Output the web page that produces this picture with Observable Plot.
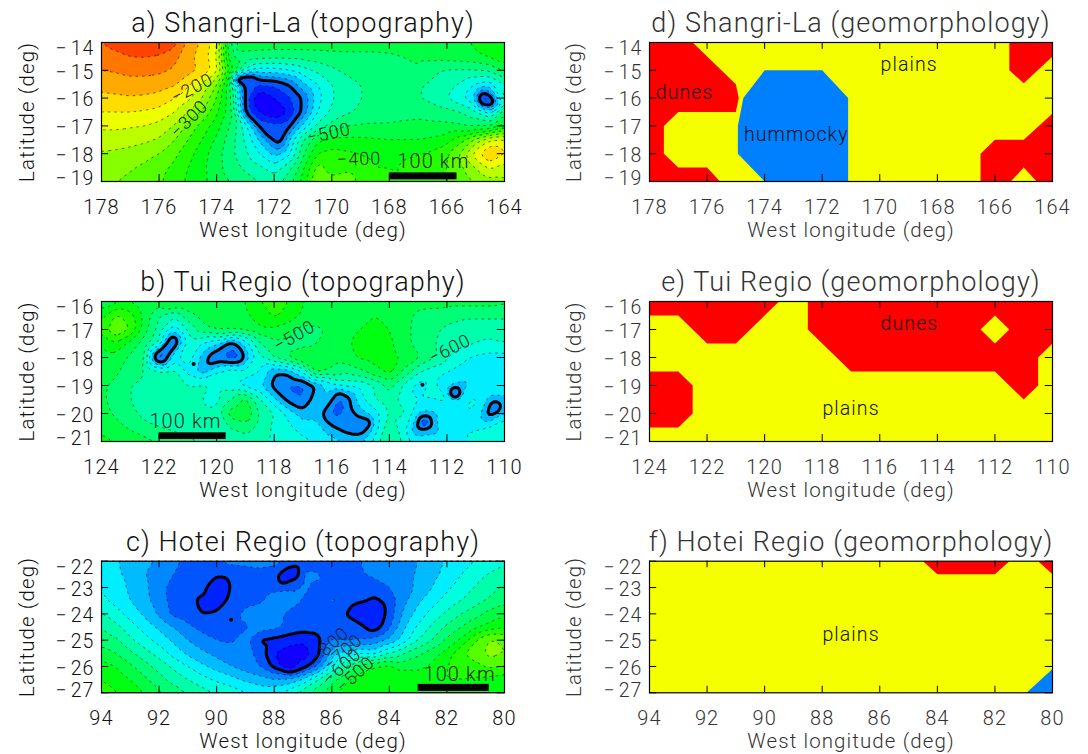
<!DOCTYPE html>
<html><head><meta charset="utf-8">
<script src="https://cdn.jsdelivr.net/npm/d3@7"></script>
<script src="https://cdn.jsdelivr.net/npm/@observablehq/plot@0.6"></script>
<style>
html,body{margin:0;padding:0;background:#fff}
#root{position:relative;width:1088px;height:754px;overflow:hidden}
#root>div{position:absolute}
svg{display:block}
</style></head><body><div id="root"></div>
<script>
// Elevation grids (metres), 0.5 degree spacing, rows from north to south, columns from high to low west longitude
const elevA = [
[-50,-30,-10,0,-5,-25,-110,-160,-230,-580,-520,-520,-520,-520,-520,-520,-520,-520,-520,-520,-520,-510,-510,-510,-510,-510,-490,-470,-450],
[-75,-65,-50,-48,-55,-80,-130,-175,-240,-560,-570,-575,-580,-580,-580,-575,-570,-565,-565,-565,-560,-550,-540,-530,-525,-520,-510,-490,-460],
[-100,-95,-85,-85,-90,-105,-130,-160,-230,-480,-650,-720,-720,-700,-670,-640,-610,-590,-580,-575,-570,-565,-555,-585,-605,-605,-600,-590,-540],
[-130,-125,-120,-120,-125,-140,-190,-260,-340,-560,-880,-900,-890,-850,-760,-700,-650,-620,-600,-585,-580,-575,-595,-610,-640,-655,-700,-720,-650],
[-165,-160,-155,-160,-170,-195,-235,-300,-400,-540,-870,-1010,-950,-910,-845,-720,-655,-625,-602,-585,-580,-575,-598,-615,-650,-690,-760,-880,-620],
[-200,-200,-200,-205,-215,-245,-300,-360,-440,-530,-860,-960,-1000,-950,-840,-700,-640,-610,-590,-575,-570,-565,-565,-570,-580,-600,-640,-720,-560],
[-240,-240,-245,-250,-265,-300,-365,-420,-480,-560,-680,-865,-880,-870,-740,-640,-580,-550,-545,-545,-545,-540,-535,-540,-540,-545,-555,-560,-490],
[-275,-275,-280,-290,-305,-345,-400,-450,-510,-580,-660,-760,-860,-760,-600,-510,-490,-490,-490,-495,-500,-500,-500,-490,-470,-420,-330,-250,-240],
[-305,-310,-320,-330,-350,-385,-430,-480,-530,-590,-640,-700,-770,-720,-560,-450,-430,-440,-450,-455,-455,-450,-450,-440,-410,-340,-220,-140,-200],
[-325,-335,-345,-360,-385,-410,-450,-490,-530,-580,-610,-640,-680,-620,-510,-380,-430,-420,-440,-450,-450,-450,-440,-430,-400,-360,-300,-240,-270],
[-340,-350,-360,-375,-395,-420,-460,-490,-520,-550,-580,-600,-620,-570,-480,-340,-380,-350,-420,-445,-450,-450,-440,-420,-400,-380,-350,-320,-310]
];
const elevB = [
[-530,-520,-510,-540,-530,-470,-490,-500,-510,-520,-500,-450,-420,-450,-500,-510,-510,-510,-510,-510,-510,-520,-530,-530,-530,-530,-530,-530,-540],
[-470,-390,-430,-520,-600,-640,-570,-530,-530,-530,-510,-480,-440,-470,-510,-525,-530,-520,-510,-500,-510,-530,-560,-570,-580,-590,-590,-590,-590],
[-440,-350,-400,-530,-620,-730,-640,-570,-540,-540,-530,-510,-510,-530,-570,-560,-540,-520,-500,-490,-500,-530,-570,-590,-610,-620,-630,-630,-630],
[-500,-460,-520,-570,-650,-850,-680,-700,-740,-830,-730,-600,-560,-560,-570,-550,-530,-510,-480,-490,-490,-530,-570,-595,-620,-630,-650,-660,-650],
[-520,-520,-560,-590,-900,-720,-670,-770,-850,-880,-790,-660,-590,-540,-480,-510,-530,-520,-490,-480,-480,-510,-540,-590,-640,-690,-710,-720,-720],
[-530,-540,-580,-600,-640,-630,-720,-780,-700,-670,-680,-700,-790,-780,-700,-530,-560,-590,-560,-510,-480,-560,-640,-680,-700,-710,-720,-730,-730],
[-540,-560,-600,-610,-620,-630,-650,-640,-660,-690,-720,-740,-820,-860,-860,-790,-720,-690,-690,-650,-580,-660,-720,-690,-730,-770,-730,-710,-710],
[-540,-570,-600,-620,-620,-610,-620,-650,-670,-600,-530,-640,-740,-820,-850,-760,-790,-830,-720,-650,-620,-680,-700,-700,-690,-720,-690,-770,-760],
[-530,-560,-590,-610,-620,-630,-630,-640,-630,-520,-500,-610,-650,-720,-780,-770,-860,-840,-770,-720,-640,-640,-750,-760,-740,-700,-710,-830,-740],
[-510,-530,-560,-590,-600,-610,-620,-620,-620,-600,-580,-620,-660,-690,-720,-730,-790,-830,-850,-730,-610,-680,-810,-780,-710,-700,-700,-690,-660],
[-490,-500,-510,-530,-550,-570,-590,-600,-610,-620,-620,-640,-660,-680,-690,-700,-730,-750,-750,-680,-590,-660,-720,-720,-710,-700,-700,-670,-660]
];
const elevC = [
[-735,-745,-770,-790,-805,-840,-860,-860,-850,-835,-830,-815,-830,-860,-880,-885,-885,-880,-850,-835,-830,-820,-800,-770,-745,-725,-700,-680,-660],
[-720,-740,-765,-800,-820,-850,-870,-885,-890,-885,-885,-880,-880,-950,-840,-840,-880,-875,-855,-835,-825,-815,-795,-765,-735,-700,-670,-645,-625],
[-700,-725,-760,-790,-830,-870,-880,-880,-950,-895,-875,-870,-860,-855,-840,-860,-870,-860,-865,-880,-850,-820,-790,-750,-710,-680,-645,-620,-590],
[-690,-715,-750,-785,-825,-870,-885,-910,-930,-885,-870,-860,-830,-825,-850,-875,-840,-855,-890,-910,-885,-815,-760,-720,-680,-650,-620,-590,-560],
[-645,-680,-720,-760,-810,-865,-880,-900,-890,-885,-830,-820,-830,-860,-875,-880,-870,-900,-960,-920,-880,-790,-730,-680,-640,-600,-570,-530,-510],
[-600,-635,-680,-720,-760,-800,-840,-865,-875,-875,-860,-820,-835,-860,-875,-880,-870,-880,-880,-930,-860,-760,-690,-640,-590,-550,-510,-480,-460],
[-570,-590,-640,-680,-720,-760,-800,-830,-850,-860,-830,-910,-915,-930,-945,-920,-850,-860,-850,-830,-790,-730,-650,-600,-540,-490,-400,-340,-360],
[-525,-550,-590,-630,-670,-720,-760,-790,-815,-825,-830,-870,-950,-975,-980,-925,-780,-730,-700,-720,-650,-600,-560,-520,-480,-410,-370,-330,-350],
[-480,-500,-540,-580,-620,-660,-700,-740,-770,-800,-825,-850,-915,-1000,-930,-850,-700,-600,-530,-500,-480,-520,-520,-490,-450,-440,-420,-390,-400],
[-450,-470,-500,-540,-580,-620,-650,-680,-710,-730,-760,-780,-800,-790,-740,-650,-570,-510,-470,-460,-470,-450,-460,-460,-450,-450,-460,-470,-480],
[-430,-445,-470,-500,-540,-570,-600,-630,-650,-670,-690,-710,-700,-670,-620,-560,-510,-480,-450,-450,-450,-450,-460,-470,-470,-470,-480,-490,-500]
];
// Extra control points for small basins between grid nodes [lon, lat, elevation]
const extraA = [[164.8,-16.05,-950],[164.5,-16.1,-950],[173.35,-15.4,-950],[172.9,-15.2,-880],[171.82,-17.56,-875],[172.12,-17.32,-885]];
const extraB = [[111.7,-19.3,-950],[110.35,-19.75,-880],[112.8,-20.37,-950],
 [121.76,-17.67,-880],[122.06,-17.97,-870],[121.53,-17.38,-860],[119.3,-17.97,-880],[119.88,-17.85,-830],
 [115.06,-20.37,-850],[114.7,-20.37,-840],[115.76,-19.65,-880],[115.29,-20.37,-860],[115.76,-19.29,-820]];
const extraC = [[85.76,-24.19,-905],[84.35,-24.06,-930],[84.59,-24.5,-925],[85.18,-23.75,-925],[84.7,-23.75,-925],
 [86.65,-24.89,-915],[87.65,-22.73,-940],[87.24,-22.42,-940],[90.24,-23.62,-930]];
const pitsA = [];
const pitsB = [[120.8,-18.23],[112.85,-18.97]];
const pitsC = [[89.5,-24.22]];

// Contour levels (lower bound of each 50 m band) and band colours
const levels = d3.range(-1100, 51, 50);
const bandColors = ["#6020c8","#4400ff","#1100ff","#0022ff","#0055ff","#0088ff","#00bbff","#00eeff","#00ffdd","#00ffaa","#00ff77","#00ff44","#00ff11","#22ff00","#55ff00","#88ff00","#bbff00","#eeff00","#ffdd00","#ffaa00","#ff7700","#ff4400","#ff2000","#ff0000"];

// Geomorphology polygons [lon, lat]
const dRed = [[[178,-14],[176.5,-14],[175,-15.5],[174.9,-16],[175,-16.5],[177,-16.5],[177.5,-17],[177.5,-18],[177,-18.5],[176,-18.5],[175.55,-19],[178,-19]],
 [[165.5,-14],[165.5,-15],[165,-15.47],[164,-14.5],[164,-14]],
 [[166.5,-19],[166.5,-18],[166,-17.5],[165,-17.5],[164,-16.55],[164,-19],[164.55,-19],[165,-18.5],[165.45,-19]]];
const dBlue = [[[174,-15],[172,-15],[171.1,-16],[171.1,-19],[174,-19],[174.93,-18],[174.93,-17],[174.74,-16]]];
const dYellow = [];
const eRed = [[[124,-16],[119.5,-16],[121,-17.5],[122,-17.5],[123,-16.5],[124,-16.5]],
 [[124,-18.5],[123,-18.5],[122.5,-19],[122.5,-20],[123,-20.5],[124,-20.5]],
 [[118.5,-16],[118.5,-17],[117,-18.5],[112,-18.5],[111,-19.5],[110.5,-19],[110.5,-18],[110,-17.5],[110,-16]]];
const eBlue = [];
const eYellow = [[[112.5,-17],[112,-16.5],[111.5,-17],[112,-17.5]]];
const fRed = [[[84.5,-22],[84,-22.5],[82,-22.5],[81.5,-22]],[[80.5,-22],[80,-22.5],[80,-22]]];
const fBlue = [[[80.9,-27],[80,-26.1],[80,-27]]];
const fYellow = [];

const xLabel = "West longitude (deg)", yLabel = "Latitude (deg)";
const lonTicksA = [178,176,174,172,170,168,166,164];
const lonTicksB = [124,122,120,118,116,114,112,110];
const lonTicksC = [94,92,90,88,86,84,82,80];
const latTicksA = [-14,-15,-16,-17,-18,-19];
const latTicksB = [-16,-17,-18,-19,-20,-21];
const latTicksC = [-22,-23,-24,-25,-26,-27];

const FONT = "Roboto, sans-serif";
const minus = d => "\u2212\u200a" + Math.abs(d);

function base(cfg, marks, color) {
  const [lon0, lon1] = [cfg.lons[0], cfg.lons[cfg.lons.length-1]];
  const [lat0, lat1] = [cfg.lats[cfg.lats.length-1], cfg.lats[0]];
  const tx = 0.25, ty = 0.25;
  const xt = cfg.lons, yt = cfg.lats;
  const latLabel = (data, dy) => Plot.text(data,{ariaLabel:"lat label",x:()=>lon0,y:d=>d,text:minus,dx:-7,dy,textAnchor:"end",fontSize:19.5,fill:color});
  const svg = Plot.plot({
    width: 544, height: cfg.h,
    marginLeft: cfg.ml, marginRight: cfg.mr, marginTop: cfg.mt, marginBottom: cfg.h - cfg.mt - cfg.fh,
    x: {domain:[lon0,lon1],axis:null}, y: {domain:[lat0,lat1],axis:null},
    color: cfg.colorOpt,
    style: {fontFamily: FONT, fontWeight: 300, letterSpacing: "1.1px", color, background:"transparent", overflow:"visible"},
    marks: [
      ...marks,
      Plot.ruleX(xt,{y1:lat0,y2:lat0+ty,stroke:"#000",strokeWidth:1}),
      Plot.ruleX(xt,{y1:lat1,y2:lat1-ty,stroke:"#000",strokeWidth:1}),
      Plot.ruleY(yt,{x1:lon0,x2:lon0-tx,stroke:"#000",strokeWidth:1}),
      Plot.ruleY(yt,{x1:lon1,x2:lon1+tx,stroke:"#000",strokeWidth:1}),
      Plot.frame({stroke:"#000",strokeWidth:1.2}),
      Plot.axisX(xt,{anchor:"bottom",tickSize:0,tickPadding:18,fontSize:20,tickFormat:d=>String(d),label:null}),
      latLabel(yt.slice(0,1),6.5), latLabel(yt.slice(1,5),2), latLabel(yt.slice(5),-2.5),
      Plot.text([xLabel],{ariaLabel:"x label",frameAnchor:"bottom",lineAnchor:"middle",dy:cfg.xdy,fontSize:20.5,text:d=>d,fill:color}),
      Plot.text([yLabel],{ariaLabel:"y label",frameAnchor:"left",lineAnchor:"middle",textAnchor:"middle",rotate:-90,dx:-cfg.ylo,fontSize:20.5,text:d=>d,fill:color}),
      Plot.text([cfg.title],{ariaLabel:"panel title",frameAnchor:"top",lineAnchor:"middle",dy:-19,fontSize:27,text:d=>d,fill:color})
    ]
  });
  const titleNode = svg.querySelector('[aria-label="panel title"]');
  if (titleNode) titleNode.style.letterSpacing = cfg.ts + "px";
  const fitted = {"x label":215, "y label":145, "scale label":82};
  for (const key in fitted) {
    svg.querySelectorAll('[aria-label="'+key+'"]').forEach(n => {
      const nodes = n.tagName === "text" ? [n] : n.querySelectorAll("text");
      nodes.forEach(t => { t.setAttribute("textLength", fitted[key]); t.setAttribute("lengthAdjust","spacing"); });
    });
  }
  return svg;
}

function topo(cfg) {
  const rows = cfg.grid, pts = [];
  const lonStart = cfg.lons[0], latStart = cfg.lats[0];
  rows.forEach((r,j)=>r.forEach((v,i)=>pts.push({lon:lonStart-i*0.5,lat:latStart-j*0.5,v})));
  (cfg.extra||[]).forEach(e=>pts.push({lon:e[0],lat:e[1],v:e[2]}));
  const common = {x:"lon",y:"lat",interpolate:"barycentric",blur:1,clip:true};
  const marks = [
    Plot.contour(pts,{...common,value:"v",fill:"value",thresholds:levels}),
    Plot.contour(pts,{...common,value:"v",stroke:"#000",fill:"none",strokeWidth:0.6,strokeDasharray:"2.5,4",thresholds:levels}),
    Plot.contour(pts,{...common,value:d=>-d.v,stroke:"#000",fill:"none",strokeWidth:3,thresholds:[-cfg.bold]}),
    Plot.dot(cfg.pits,{x:d=>d[0],y:d=>d[1],r:2,fill:"#000"}),
    Plot.rect([cfg.bar],{x1:d=>d[0],x2:d=>d[1],y1:d=>d[2],y2:d=>d[3],fill:"#000"}),
    Plot.text(cfg.notes,{x:d=>d[0],y:d=>d[1],text:d=>d[2],rotate:d=>d[3],fontSize:18,fill:"#222"}),
    Plot.text([cfg.scale],{ariaLabel:"scale label",x:d=>d[0],y:d=>d[1],text:()=>"100 km",fontSize:20,fill:"#222"})
  ];
  return base({...cfg,colorOpt:{type:"ordinal",domain:levels,range:bandColors}},marks,"#111");
}

function geo(cfg) {
  const poly = (list,fill)=>list.map(p=>Plot.line(p,{x:d=>d[0],y:d=>d[1],fill,stroke:"none",curve:"linear-closed"}));
  const marks = [
    Plot.frame({fill:"#f5ff00"}),
    ...poly(cfg.red,"#ff0000"), ...poly(cfg.blue,"#0080ff"), ...poly(cfg.yellow,"#f5ff00"),
    Plot.text(cfg.notes,{x:d=>d[0],y:d=>d[1],text:d=>d[2],fontSize:19.5,fill:"#111"})
  ];
  return base(cfg,marks,"#333");
}

const L = {ml:101,mr:40}, R = {ml:105,mr:36};
const panels = [
 {left:0,top:0,fn:topo,cfg:{...L,h:250,mt:42,fh:139,xdy:49,ylo:74,ts:2.0,lons:lonTicksA,lats:latTicksA,grid:elevA,extra:extraA,bold:-850,pits:pitsA,
   title:"a) Shangri-La (topography)",bar:[168,165.65,-18.69,-18.94],scale:[166.47,-18.3],
   notes:[[174.85,-15.65,"\u2212200",-27],[174.95,-16.75,"\u2212300",-45],[170.1,-17.27,"\u2212500",-12],[169.05,-18.2,"\u2212400",-2]]}},
 {left:0,top:259,fn:topo,cfg:{...L,h:250,mt:42,fh:140,xdy:49,ylo:74,ts:1.6,lons:lonTicksB,lats:latTicksB,grid:elevB,extra:extraB,bold:-800,pits:pitsB,
   title:"b) Tui Regio (topography)",bar:[122,119.67,-20.69,-20.93],scale:[121.08,-20.3],
   notes:[[117.3,-17.24,"\u2212500",-30],[111.9,-17.7,"\u2212600",-27]]}},
 {left:0,top:518,fn:topo,cfg:{...L,h:236,mt:42.7,fh:131.6,xdy:49,ylo:74,ts:1.7,lons:lonTicksC,lats:latTicksC,grid:elevC,extra:extraC,bold:-900,pits:pitsC,
   title:"c) Hotei Regio (topography)",bar:[83,80.53,-26.68,-26.95],scale:[81.56,-26.3],
   notes:[[86.07,-25.2,"\u2212800",-42],[85.6,-25.47,"\u2212700",-42],[85.64,-26.0,"\u2212600",-42],[85.18,-26.31,"\u2212500",-42]]}},
 {left:544,top:0,fn:geo,cfg:{...R,h:250,mt:42,fh:139,xdy:49,ylo:75,ts:3.0,lons:lonTicksA,lats:latTicksA,title:"d) Shangri-La (geomorphology)",red:dRed,blue:dBlue,yellow:dYellow,
   notes:[[176.78,-15.8,"dunes"],[168.98,-14.79,"plains"],[172.9,-17.33,"hummocky"]]}},
 {left:544,top:259,fn:geo,cfg:{...R,h:250,mt:42,fh:140,xdy:49,ylo:75,ts:1.6,lons:lonTicksB,lats:latTicksB,title:"e) Tui Regio (geomorphology)",red:eRed,blue:eBlue,yellow:eYellow,
   notes:[[114.97,-16.78,"dunes"],[117,-19.83,"plains"]]}},
 {left:544,top:518,fn:geo,cfg:{...R,h:236,mt:42.7,fh:131.6,xdy:49,ylo:75,ts:2.5,lons:lonTicksC,lats:latTicksC,title:"f) Hotei Regio (geomorphology)",red:fRed,blue:fBlue,yellow:fYellow,
   notes:[[87,-24.8,"plains"]]}}
];
const root = document.getElementById("root");
for (const p of panels) {
  const d = document.createElement("div");
  d.style.left = p.left+"px"; d.style.top = p.top+"px";
  d.appendChild(p.fn(p.cfg));
  root.appendChild(d);
}
</script></body></html>
